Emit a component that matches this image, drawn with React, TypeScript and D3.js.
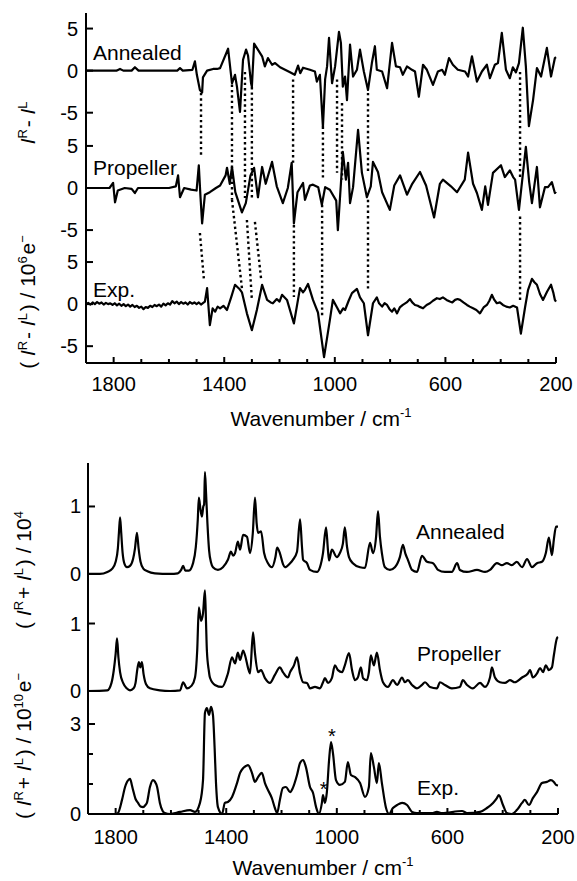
import React from "react";
import * as d3 from "d3";

type Pt = [number, number];

// ---- top panel: (I^R - I^L) / 10^6 e-, pairs of [wavenumber, value] ----
const annealedDiff: Pt[] = [
  [1900, 0], [1790, 0], [1777, 0.2], [1765, 0], [1735, 0], [1723, 0.4], [1710, 0], [1570, 0], [1560, 0.3],
  [1550, 0], [1515, 0.1], [1506, 1.1], [1499, -0.5], [1488, -2.3], [1480, -2.6], [1477, -0.8], [1462, 0],
  [1440, 0.2], [1426, 0.2], [1415, 0.3], [1386, 2.6], [1372, -1.5], [1361, -0.5], [1354, -1.9], [1343, -4.9],
  [1332, 1.3], [1321, 2.5], [1314, 1.8], [1303, -1.5], [1300, -1.9], [1292, 3.2], [1263, 1.7], [1253, 0.5],
  [1242, 1.5], [1227, 0.7], [1216, 0.9], [1198, 0.4], [1180, 0.1], [1162, -0.2], [1145, -0.5], [1133, 0.6],
  [1125, -0.3], [1115, 0.35], [1090, 0.1], [1072, -0.1], [1065, -1.3], [1054, -0.5], [1043, -6.7], [1035, -1],
  [1028, 0.5], [1021, 3.9], [1010, -1.5], [999, 0.5], [985, 4.6], [978, 3.3], [971, -1.9], [963, -0.7],
  [956, -3.5], [945, 3.1], [934, -0.7], [920, 0.1], [909, 2.5], [895, -0.1], [880, -2.3], [866, 0.9],
  [855, 2.9], [848, 0.1], [829, -0.1], [811, -2.1], [793, 3.3], [779, 0.5], [764, 0.4], [754, -0.5],
  [739, 0.5], [721, 0.1], [710, -0.1], [696, -3.1], [681, 0.7], [667, 0.1], [645, -1.7], [627, -0.1],
  [612, 0.1], [602, -0.5], [587, 1.5], [573, 0.7], [555, 0.1], [529, -0.1], [518, -0.7], [504, 1.7],
  [486, -1.3], [468, -0.1], [450, 0.7], [439, -0.9], [421, 0.7], [410, 0.9], [396, 4.5], [381, 0.1],
  [367, -0.9], [356, 0.4], [345, -0.2], [334, 0.9], [320, 5.1], [309, 0.5], [298, -6.6], [283, -3.5],
  [269, 0.3], [254, -0.7], [233, 2.7], [218, -0.7], [204, 1.5], [200, 1.6],
];

const propellerDiff: Pt[] = [
  [1900, 0], [1815, 0], [1802, 0.6], [1795, -1.7], [1785, -0.3], [1760, 0], [1735, -0.1], [1723, -0.6],
  [1712, 0], [1600, 0], [1575, 0.2], [1567, 1.5], [1560, -1.1], [1545, 0], [1520, -0.2], [1500, -0.3],
  [1492, 2.7], [1486, -1.0], [1480, -4.2], [1470, -0.8], [1452, -0.5], [1430, 0], [1415, 0.3], [1395, 1.5],
  [1390, 2.4], [1380, 0.5], [1372, 2.5], [1360, -0.5], [1336, -2.9], [1322, -1.8], [1305, 1.5], [1292, 2.4],
  [1278, -1.1], [1263, 2.5], [1250, 0.5], [1227, 3.1], [1210, 0.2], [1188, -1.8], [1170, 0], [1156, 3.0],
  [1148, -4.2], [1135, -0.5], [1115, 0.6], [1108, -1.4], [1090, 0.3], [1079, 0.4], [1060, 0.1], [1047, -2.0],
  [1035, 0.1], [1018, -0.2], [995, -1.5], [989, -5.0], [978, 0.5], [971, 4.3], [960, 1.0], [952, 3.0],
  [945, -1.8], [934, 0.1], [916, 6.9], [902, 1.8], [884, -1.1], [870, 0.2], [862, 3.1], [844, 1.9],
  [829, -0.5], [801, -2.6], [785, 0.3], [764, 1.5], [739, -0.8], [720, 0.5], [692, 1.9], [670, 0.3],
  [641, -3.5], [620, 0.5], [609, 1.0], [580, 0.2], [558, -0.5], [530, 1.0], [518, 4.2], [500, 0.5],
  [486, -0.6], [468, -2.6], [456, 0.2], [446, -2.0], [428, 1.8], [399, 2.7], [385, 1.3], [367, 2.1],
  [355, 1.3], [348, 1.0], [334, -2.6], [309, 4.9], [297, 0.7], [287, -1.8], [269, 2.5], [258, -2.3],
  [240, 0.1], [229, 0.1], [215, 0.7], [204, -0.6], [200, -0.4],
];

const expDiff: Pt[] = [
  [1900, 0], [1892, 0.15], [1884, -0.05], [1876, 0.2], [1868, 0], [1860, 0.25], [1852, 0.05], [1844, 0.2],
  [1836, -0.05], [1828, 0.15], [1820, 0], [1812, 0.1], [1804, -0.1], [1796, 0.1], [1788, -0.15],
  [1780, 0.05], [1772, -0.2], [1764, 0], [1756, -0.25], [1748, -0.05], [1740, -0.3], [1732, -0.1],
  [1724, -0.35], [1716, -0.2], [1708, -0.45], [1700, -0.3], [1692, -0.6], [1684, -0.35], [1676, -0.45],
  [1668, -0.2], [1660, -0.35], [1652, -0.1], [1644, -0.25], [1636, -0.05], [1628, -0.3], [1620, 0.05],
  [1612, -0.15], [1604, 0.1], [1596, -0.05], [1588, 0.35], [1580, 0.1], [1572, 0.3], [1564, 0],
  [1556, 0.25], [1548, 0.05], [1540, 0.2], [1532, -0.05], [1524, 0.25], [1516, 0.05], [1508, 0.2],
  [1500, 0], [1492, 0.2], [1484, -0.05], [1476, 0.15], [1470, 0.3],
  [1462, 1.9], [1452, -2.5], [1442, -0.5], [1433, -0.9], [1424, -0.3], [1415, -0.5], [1403, -0.2],
  [1390, -0.7], [1375, 0.8], [1361, 2.3], [1345, 1.8], [1336, 1.4], [1318, -1.1], [1300, -3.1],
  [1282, -0.7], [1263, 2.3], [1245, 0.5], [1232, 0.2], [1224, 0.1], [1210, 0.6], [1200, 0.3], [1191, 1.1],
  [1173, 0.5], [1148, -2.3], [1126, 1.9], [1115, 1.4], [1108, 1.7], [1097, 2.4], [1079, 0.5], [1061, -1.0],
  [1039, -6.3], [1018, -1.9], [1007, 0.5], [992, -0.4], [981, -1.1], [970, -0.5], [963, -0.7], [950, 0.4],
  [938, 1.3], [920, 1.8], [909, 0.8], [895, 0.1], [880, -3.7], [862, 0.1], [848, 0.8], [840, 0.1],
  [829, -0.3], [820, 0.1], [811, -0.1], [802, -0.6], [793, -0.9], [785, -0.5], [775, -1.1], [765, -0.4],
  [754, -0.1], [740, 0.2], [728, 0.6], [720, 0.2], [710, -0.1], [700, -0.2], [695, -0.3], [681, -0.5],
  [668, -0.1], [656, 0.1], [645, 0.4], [631, 0.7], [620, 0.6], [609, 0.8], [596, 0.5], [584, 0.3],
  [575, 0.2], [565, 0.5], [556, 0.6], [547, 0.5], [535, 0.2], [522, -0.1], [512, -0.3], [500, -0.5],
  [488, -0.7], [475, -1.1], [462, -0.4], [450, -0.1], [441, 0.4], [432, 1.1], [423, 0.5], [414, 0.1],
  [403, 0.2], [392, -0.1], [380, -0.3], [367, -0.4], [355, -0.2], [341, -0.4], [327, -3.5], [312, -0.4],
  [301, 1.7], [287, 3.0], [278, 2.6], [269, 2.3], [258, 1.2], [247, 0.5], [232, 1.5], [218, 2.3],
  [210, 1.4], [204, 0.5], [200, 0.3],
];

// ---- bottom panel: (I^R + I^L) ----
const annealedSum: Pt[] = [
  [1900, 0], [1857, 0], [1830, 0.03], [1812, 0.08], [1800, 0.18], [1792, 0.38], [1788, 0.62], [1784, 0.84],
  [1780, 0.62], [1775, 0.32], [1768, 0.15], [1759, 0.1], [1748, 0.12], [1737, 0.22], [1730, 0.38],
  [1723, 0.61], [1717, 0.38], [1710, 0.18], [1700, 0.08], [1685, 0.04], [1658, 0.01], [1603, 0],
  [1575, 0.01], [1563, 0.06], [1556, 0.12], [1548, 0.05], [1535, 0.05], [1520, 0.16], [1510, 0.4],
  [1503, 0.8], [1499, 1.13], [1493, 0.95], [1488, 0.85], [1483, 1.0], [1480, 1.03], [1477, 1.51],
  [1473, 1.2], [1468, 0.75], [1462, 0.35], [1455, 0.17], [1448, 0.1], [1430, 0.06], [1412, 0.1],
  [1394, 0.21], [1383, 0.33], [1375, 0.27], [1368, 0.31], [1358, 0.48], [1350, 0.36], [1339, 0.58],
  [1325, 0.55], [1314, 0.31], [1304, 0.6], [1296, 1.13], [1290, 0.75], [1285, 0.61], [1274, 0.63],
  [1263, 0.31], [1249, 0.16], [1235, 0.1], [1222, 0.25], [1216, 0.39], [1206, 0.31], [1195, 0.15],
  [1188, 0.1], [1169, 0.16], [1159, 0.21], [1144, 0.33], [1133, 0.81], [1126, 0.4], [1122, 0.21],
  [1108, 0.16], [1097, 0.06], [1072, 0.03], [1061, 0.1], [1050, 0.31], [1039, 0.69], [1032, 0.35],
  [1028, 0.2], [1018, 0.36], [1000, 0.25], [989, 0.31], [978, 0.45], [971, 0.69], [963, 0.4], [956, 0.25],
  [942, 0.16], [916, 0.1], [898, 0.09], [880, 0.46], [869, 0.31], [858, 0.55], [851, 0.93], [844, 0.55],
  [837, 0.31], [826, 0.1], [808, 0.06], [790, 0.1], [772, 0.25], [761, 0.43], [752, 0.3], [743, 0.21],
  [728, 0.06], [710, 0.03], [692, 0.27], [674, 0.18], [652, 0.16], [634, 0.06], [609, 0.03], [584, 0.03],
  [565, 0.16], [555, 0.06], [529, 0.03], [493, 0.06], [464, 0.03], [446, 0.06], [421, 0.16], [403, 0.13],
  [385, 0.16], [367, 0.13], [349, 0.18], [330, 0.1], [312, 0.22], [294, 0.1], [276, 0.16], [258, 0.18],
  [244, 0.31], [233, 0.54], [222, 0.28], [215, 0.51], [207, 0.7], [200, 0.7],
];

const propellerSum: Pt[] = [
  [1900, 0], [1830, 0.01], [1815, 0.12], [1807, 0.3], [1800, 0.55], [1795, 0.78], [1790, 0.5],
  [1784, 0.28], [1773, 0.12], [1760, 0.04], [1748, 0.01], [1735, 0.04], [1728, 0.12], [1723, 0.28],
  [1716, 0.43], [1711, 0.35], [1705, 0.43], [1699, 0.25], [1690, 0.1], [1676, 0.04], [1640, 0.01],
  [1603, 0], [1567, 0.01], [1556, 0.13], [1542, 0.04], [1525, 0.08], [1513, 0.2], [1505, 0.6],
  [1499, 1.24], [1491, 1.04], [1484, 1.15], [1477, 1.49], [1473, 1.0], [1470, 0.6], [1463, 0.3],
  [1459, 0.2], [1441, 0.09], [1415, 0.06], [1394, 0.26], [1379, 0.5], [1368, 0.41], [1358, 0.57],
  [1350, 0.46], [1339, 0.6], [1332, 0.53], [1321, 0.34], [1314, 0.26], [1303, 0.87], [1296, 0.56],
  [1285, 0.28], [1274, 0.31], [1260, 0.19], [1242, 0.12], [1224, 0.24], [1206, 0.35], [1195, 0.28],
  [1177, 0.2], [1169, 0.28], [1155, 0.38], [1144, 0.5], [1133, 0.26], [1122, 0.13], [1108, 0.12],
  [1097, 0.04], [1079, 0.06], [1061, 0.04], [1050, 0.13], [1043, 0.19], [1032, 0.12], [1018, 0.19],
  [1007, 0.38], [996, 0.31], [981, 0.28], [971, 0.38], [956, 0.56], [945, 0.31], [934, 0.16], [924, 0.2],
  [913, 0.35], [905, 0.19], [891, 0.16], [884, 0.28], [877, 0.53], [866, 0.38], [855, 0.57], [844, 0.31],
  [833, 0.13], [815, 0.06], [797, 0.16], [782, 0.09], [764, 0.2], [754, 0.13], [743, 0.16], [728, 0.09],
  [710, 0.04], [692, 0.09], [681, 0.13], [663, 0.06], [638, 0.04], [627, 0.13], [609, 0.09], [584, 0.04],
  [555, 0.06], [544, 0.16], [529, 0.09], [508, 0.04], [482, 0.12], [464, 0.06], [446, 0.2], [439, 0.35],
  [428, 0.2], [410, 0.13], [392, 0.12], [374, 0.16], [356, 0.13], [330, 0.2], [309, 0.26], [301, 0.31],
  [291, 0.2], [276, 0.26], [265, 0.34], [254, 0.28], [244, 0.38], [233, 0.31], [222, 0.35], [215, 0.53],
  [204, 0.78], [200, 0.8],
];

// experimental Raman, units of 10^10 e-
const expSum: Pt[] = [
  [1900, 0], [1802, 0], [1792, 0.03], [1777, 0.47], [1766, 0.9], [1759, 1.07], [1752, 1.15], [1748, 1.17],
  [1741, 0.95], [1737, 0.8], [1728, 0.5], [1719, 0.37], [1710, 0.25], [1701, 0.23], [1692, 0.3],
  [1687, 0.37], [1676, 0.9], [1665, 1.13], [1658, 1.08], [1650, 0.9], [1640, 0.37], [1630, 0.1],
  [1622, 0.03], [1603, 0], [1567, 0.07], [1531, 0.13], [1513, 0.07], [1495, 0.37], [1484, 1.13],
  [1477, 3.37], [1470, 3.53], [1462, 3.3], [1455, 3.57], [1448, 3.3], [1442, 2.2], [1437, 1.03],
  [1430, 0.23], [1415, 0], [1405, 0.37], [1394, 0.4], [1379, 0.57], [1361, 1.03], [1350, 1.37],
  [1339, 1.53], [1329, 1.6], [1321, 1.63], [1307, 1.37], [1296, 1.07], [1285, 1.23], [1271, 1.37],
  [1260, 1.03], [1249, 0.8], [1235, 0.53], [1224, 0.2], [1216, 0.03], [1206, 0.47], [1195, 0.87],
  [1184, 0.9], [1169, 0.73], [1159, 0.87], [1144, 1.3], [1133, 1.7], [1122, 1.8], [1112, 1.57],
  [1097, 0.9], [1086, 0.7], [1075, 0.23], [1065, 0], [1054, 0.37], [1050, 0.63], [1043, 0.37],
  [1036, 0.73], [1028, 1.8], [1021, 2.4], [1014, 2.03], [1003, 1.13], [989, 0.97], [971, 1.07],
  [960, 1.73], [949, 1.3], [934, 1.23], [916, 1.03], [898, 0.57], [884, 0.9], [877, 2.03], [866, 1.57],
  [855, 1.03], [848, 1.7], [837, 1.03], [822, 0.2], [811, 0], [797, 0.2], [782, 0.3], [764, 0.37],
  [746, 0.3], [728, 0.07], [710, 0.03], [656, 0.03], [638, 0.07], [620, 0.03], [547, 0.1], [529, 0.03],
  [482, 0.07], [457, 0.2], [435, 0.37], [421, 0.53], [414, 0.63], [399, 0.3], [385, 0.03], [367, 0],
  [349, 0.13], [330, 0.37], [320, 0.47], [305, 0.3], [291, 0.53], [276, 0.73], [258, 1.03], [240, 1.07],
  [226, 1.13], [215, 1.07], [207, 0.97], [200, 0.95],
];

// dotted correlation lines in the top panel: [wn1, stacked1, wn2, stacked2]
const correlationLines: [number, number, number, number][] = [
  [1484, 25.1, 1484, 17.4], [1488, 8.45, 1473, 2.74],
  [1372, 26.1, 1372, 12.4], [1372, 12.4, 1336, 1.9],
  [1325, 27.6, 1325, 12.6], [1318, 10.0, 1300, 0.48],
  [1300, 25.8, 1300, 12.6], [1289, 9.76, 1267, 3.1],
  [1151, 26.7, 1151, 16.5], [1148, 9.4, 1148, 0.83],
  [1043, 21.1, 1043, 14.8], [1046, 11.8, 1046, -1.67],
  [992, 26.7, 992, 15.6], [974, 23.9, 974, 14.8],
  [880, 25.1, 880, 15.6], [880, 12.4, 880, 1.67],
  [330, 27.6, 330, 15.1], [330, 10.4, 330, 0.12],
];

const xMajorTicks = [1800, 1400, 1000, 600, 200];
const xMinorTicks = [1700, 1600, 1500, 1300, 1200, 1100, 900, 800, 700, 500, 400, 300];
const diffTicks = [5, 0, -5];

// stacking offsets
const diffOffsets = { annealed: 27.75, propeller: 13.8, exp: 0 };
const sumOffsets = { annealed: 3.556, propeller: 1.822, exp: 0 };
const expSumFactor = 30 / 67.5;

const FONT = "Arial, 'Liberation Sans', Helvetica, sans-serif";

const topX = d3.scaleLinear().domain([1900, 200]).range([86, 556]);
const topY = d3.scaleLinear().domain([-7, 34.6]).range([363, 13]);
const botX = d3.scaleLinear().domain([1900, 200]).range([88, 558]);
const botY = d3.scaleLinear().domain([0, 5.2]).range([814, 463]);

const Sup = ({ children }: { children: React.ReactNode }) => (
  <>
    <tspan dy={-8} fontSize={13}>{children}</tspan>
    <tspan dy={8}>{"\u200A"}</tspan>
  </>
);

export default function App() {
  const topLine = (off: number) =>
    d3.line<Pt>().x((d) => topX(d[0])).y((d) => topY(d[1] + off));
  const botLine = (off: number, f = 1) =>
    d3
      .line<Pt>()
      .x((d) => botX(d[0]))
      .y((d) => botY(d[1] * f + off))
      .curve(d3.curveMonotoneX);

  const topYTicks = [diffOffsets.annealed, diffOffsets.propeller, diffOffsets.exp].flatMap((o) =>
    diffTicks.map((t) => ({ v: t + o, label: String(t) }))
  );
  const botYTicks = [
    { v: sumOffsets.annealed + 1, label: "1", major: true },
    { v: sumOffsets.annealed, label: "0", major: true },
    { v: sumOffsets.propeller + 1, label: "1", major: true },
    { v: sumOffsets.propeller, label: "0", major: true },
    { v: 3 * expSumFactor, label: "3", major: true },
    { v: 2 * expSumFactor, label: "", major: false },
    { v: 1 * expSumFactor, label: "", major: false },
    { v: 0, label: "0", major: true },
  ];

  const trace = { fill: "none", stroke: "#000", strokeWidth: 2.2, strokeLinejoin: "round" as const };

  const xAxis = (x: d3.ScaleLinear<number, number>, y0: number, labelY: number) => (
    <g>
      <line x1={x.range()[0]} x2={x.range()[1]} y1={y0} y2={y0} stroke="#000" strokeWidth={2} />
      {xMajorTicks.map((t) => (
        <g key={t}>
          <line x1={x(t)} x2={x(t)} y1={y0} y2={y0 - 6} stroke="#000" strokeWidth={2} />
          <text x={x(t)} y={labelY} textAnchor="middle" fontSize={20}>{t}</text>
        </g>
      ))}
      {xMinorTicks.map((t) => (
        <line key={t} x1={x(t)} x2={x(t)} y1={y0} y2={y0 - 4} stroke="#000" strokeWidth={2} />
      ))}
    </g>
  );

  return (
    <svg
      width={577}
      height={881}
      style={{ position: "absolute", left: 0, top: 0, background: "#fff" }}
      fontFamily={FONT}
    >
      {/* ---------- top panel ---------- */}
      <line x1={86} x2={86} y1={13} y2={363} stroke="#000" strokeWidth={2} />
      {topYTicks.map((t, i) => (
        <g key={i}>
          <line x1={86} x2={93} y1={topY(t.v)} y2={topY(t.v)} stroke="#000" strokeWidth={2} />
          <text x={78} y={topY(t.v) + 7} textAnchor="end" fontSize={20}>{t.label}</text>
        </g>
      ))}
      {xAxis(topX, 363, 391)}

      {correlationLines.map((l, i) => (
        <line
          key={i}
          x1={topX(l[0])}
          y1={topY(l[1])}
          x2={topX(l[2])}
          y2={topY(l[3])}
          stroke="#000"
          strokeWidth={2.4}
          strokeDasharray="2.4 3"
        />
      ))}

      <path d={topLine(diffOffsets.annealed)(annealedDiff) ?? ""} {...trace} />
      <path d={topLine(diffOffsets.propeller)(propellerDiff) ?? ""} {...trace} />
      <path d={topLine(diffOffsets.exp)(expDiff) ?? ""} {...trace} />

      <text x={93} y={60} fontSize={21}>Annealed</text>
      <text x={93} y={175} fontSize={21}>Propeller</text>
      <text x={93} y={297} fontSize={21}>Exp.</text>

      <text transform="translate(35,122) rotate(-90)" textAnchor="middle" fontSize={21}>
        <tspan fontStyle="italic">I</tspan>
        <Sup>R</Sup>
        <tspan>- </tspan>
        <tspan fontStyle="italic">I</tspan>
        <Sup>L</Sup>
      </text>
      <text transform="translate(35,302) rotate(-90)" textAnchor="middle" fontSize={21}>
        <tspan>( </tspan>
        <tspan fontStyle="italic">I</tspan>
        <Sup>R</Sup>
        <tspan>- </tspan>
        <tspan fontStyle="italic">I</tspan>
        <Sup>L</Sup>
        <tspan>) / 10</tspan>
        <Sup>6</Sup>
        <tspan>e</tspan>
        <tspan dy={-8} fontSize={13}>{"\u2212"}</tspan>
      </text>

      <text x={321} y={426} textAnchor="middle" fontSize={21}>
        Wavenumber / cm
        <tspan dy={-9} fontSize={13}>-1</tspan>
      </text>

      {/* ---------- bottom panel ---------- */}
      <line x1={88} x2={88} y1={463} y2={814} stroke="#000" strokeWidth={2} />
      {botYTicks.map((t, i) => (
        <g key={i}>
          <line
            x1={88}
            x2={t.major ? 95 : 93}
            y1={botY(t.v)}
            y2={botY(t.v)}
            stroke="#000"
            strokeWidth={2}
          />
          {t.label && (
            <text x={81} y={botY(t.v) + 7} textAnchor="end" fontSize={20}>{t.label}</text>
          )}
        </g>
      ))}
      {xAxis(botX, 814, 844)}

      <path d={botLine(sumOffsets.annealed)(annealedSum) ?? ""} {...trace} />
      <path d={botLine(sumOffsets.propeller)(propellerSum) ?? ""} {...trace} />
      <path d={botLine(sumOffsets.exp, expSumFactor)(expSum) ?? ""} {...trace} />

      <text x={botX(1018)} y={botY(2.37 * expSumFactor)} textAnchor="middle" fontSize={20}>*</text>
      <text x={botX(1048)} y={botY(0.6 * expSumFactor)} textAnchor="middle" fontSize={20}>*</text>

      <text x={416} y={539} fontSize={21}>Annealed</text>
      <text x={417} y={661} fontSize={21}>Propeller</text>
      <text x={417} y={795} fontSize={21}>Exp.</text>

      <text transform="translate(31,570) rotate(-90)" textAnchor="middle" fontSize={21}>
        <tspan>( </tspan>
        <tspan fontStyle="italic">I</tspan>
        <Sup>R</Sup>
        <tspan>+ </tspan>
        <tspan fontStyle="italic">I</tspan>
        <Sup>L</Sup>
        <tspan>) / 10</tspan>
        <tspan dy={-8} fontSize={13}>4</tspan>
      </text>
      <text transform="translate(31,746) rotate(-90)" textAnchor="middle" fontSize={21}>
        <tspan>( </tspan>
        <tspan fontStyle="italic">I</tspan>
        <Sup>R</Sup>
        <tspan>+ </tspan>
        <tspan fontStyle="italic">I</tspan>
        <Sup>L</Sup>
        <tspan>) / 10</tspan>
        <Sup>10</Sup>
        <tspan>e</tspan>
        <tspan dy={-8} fontSize={13}>{"\u2212"}</tspan>
      </text>

      <text x={323} y={875} textAnchor="middle" fontSize={21}>
        Wavenumber / cm
        <tspan dy={-9} fontSize={13}>-1</tspan>
      </text>
    </svg>
  );
}
